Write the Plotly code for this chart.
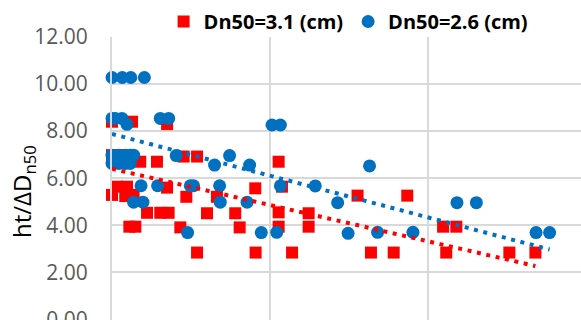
import plotly.graph_objects as go

# ---- data ----
red_x = [0.000, 0.127, 0.349,
         0.000, 0.042, 0.084,
         0.179, 0.285, 0.454, 0.539, 1.056,
         0.032, 0.095, 0.349, 0.908, 1.077,
         0.000, 0.084, 0.137, 0.471, 0.665, 1.556, 1.871,
         0.222, 0.306, 0.359, 0.602, 0.781, 1.056, 1.246,
         0.110, 0.148, 0.433, 0.809, 1.056, 1.246, 2.098, 2.182,
         0.539, 0.910, 1.141, 1.641, 1.785, 2.118, 2.518, 2.683]
red_y = [8.40, 8.40, 8.30,
         6.98, 6.98, 6.98,
         6.70, 6.70, 6.92, 6.92, 6.70,
         5.64, 5.64, 5.60, 5.57, 5.64,
         5.29, 5.24, 5.29, 5.21, 5.21, 5.26, 5.26,
         4.53, 4.53, 4.53, 4.51, 4.51, 4.55, 4.51,
         3.94, 3.94, 3.91, 3.91, 3.94, 3.94, 3.94, 3.94,
         2.84, 2.84, 2.84, 2.84, 2.84, 2.84, 2.84, 2.84]

blue_x = [0.000, 0.065, 0.119, 0.205,
          0.000, 0.021, 0.063, 0.095, 0.306, 0.359,
          1.014, 1.067,
          0.000, 0.042, 0.084, 0.116, 0.137, 0.407, 0.745,
          0.000, 0.042, 0.084, 0.116, 0.650, 0.872, 1.632,
          0.184, 0.289, 0.496, 0.517, 0.682, 1.067, 1.288,
          0.137, 0.196, 0.686, 0.856, 1.430, 2.186, 2.309,
          0.479, 0.946, 1.044, 1.496, 1.683, 1.907, 2.687, 2.773]
blue_y = [10.28, 10.28, 10.28, 10.28,
          8.54, 8.54, 8.54, 8.29, 8.54, 8.54,
          8.26, 8.26,
          6.98, 6.98, 6.98, 6.98, 6.98, 6.96, 6.96,
          6.63, 6.63, 6.63, 6.63, 6.56, 6.56, 6.52,
          5.68, 5.68, 5.68, 5.68, 5.68, 5.67, 5.67,
          4.98, 4.98, 4.98, 4.98, 4.96, 4.96, 4.96,
          3.69, 3.69, 3.70, 3.66, 3.70, 3.70, 3.69, 3.69]

# linear trendlines (Excel-style): value at first and last x
red_trend_x = [0.000, 2.683]
red_trend_y = [6.40, 2.27]
blue_trend_x = [0.000, 2.773]
blue_trend_y = [7.88, 2.97]

red_name = "Dn50=3.1 (cm)"
blue_name = "Dn50=2.6 (cm)"
y_title = "ht/ΔD<sub>n50</sub>"

RED = "#FF0000"
BLUE = "#0070C0"
GRID = "#D9D9D9"

fig = go.Figure()
fig.add_trace(go.Scatter(x=red_x, y=red_y, mode="markers", name=red_name,
                         marker=dict(symbol="square", size=12, color=RED, line=dict(width=0)),
                         cliponaxis=False))
fig.add_trace(go.Scatter(x=blue_x, y=blue_y, mode="markers", name=blue_name,
                         marker=dict(symbol="circle", size=13, color=BLUE, line=dict(width=0)),
                         cliponaxis=False))
fig.add_trace(go.Scatter(x=red_trend_x, y=red_trend_y, mode="lines", showlegend=False,
                         hoverinfo="skip",
                         line=dict(color=RED, width=4, dash="4px,5.6px"), cliponaxis=False))
fig.add_trace(go.Scatter(x=blue_trend_x, y=blue_trend_y, mode="lines", showlegend=False,
                         hoverinfo="skip",
                         line=dict(color=BLUE, width=4, dash="4px,5.6px"), cliponaxis=False))

fig.update_layout(
    width=581, height=320,
    margin=dict(l=112, r=0, t=37, b=0, autoexpand=False),
    paper_bgcolor="white", plot_bgcolor="white",
    font=dict(family="Open Sans", color="#595959"),
    showlegend=True,
    legend=dict(orientation="h", xref="container", yref="container",
                x=0.6, xanchor="center", y=1 - 21.5 / 320, yanchor="middle",
                font=dict(family="Open Sans", size=20, color="black", weight="bold"),
                bgcolor="rgba(0,0,0,0)", itemwidth=30),
    xaxis=dict(range=[0, 2.972], dtick=1, showticklabels=False, showgrid=True,
               gridcolor=GRID, gridwidth=1.5, zeroline=False, showline=False, ticks=""),
    yaxis=dict(range=[-0.025, 12], dtick=2, tickformat=".2f", showgrid=True,
               gridcolor=GRID, gridwidth=1.5, zeroline=False, showline=True,
               linecolor=GRID, linewidth=2, ticks="", ticklabelstandoff=18,
               ticklabeloverflow="allow",
               tickfont=dict(family="Open Sans", size=21, color="#595959")),
    annotations=[dict(text=y_title, xref="paper", yref="paper", x=-0.1898, y=0.4558,
                      xanchor="center", yanchor="middle", textangle=-90, showarrow=False,
                      font=dict(family="Open Sans", size=24, color="black"))],
)

fig.write_html("out.html")
